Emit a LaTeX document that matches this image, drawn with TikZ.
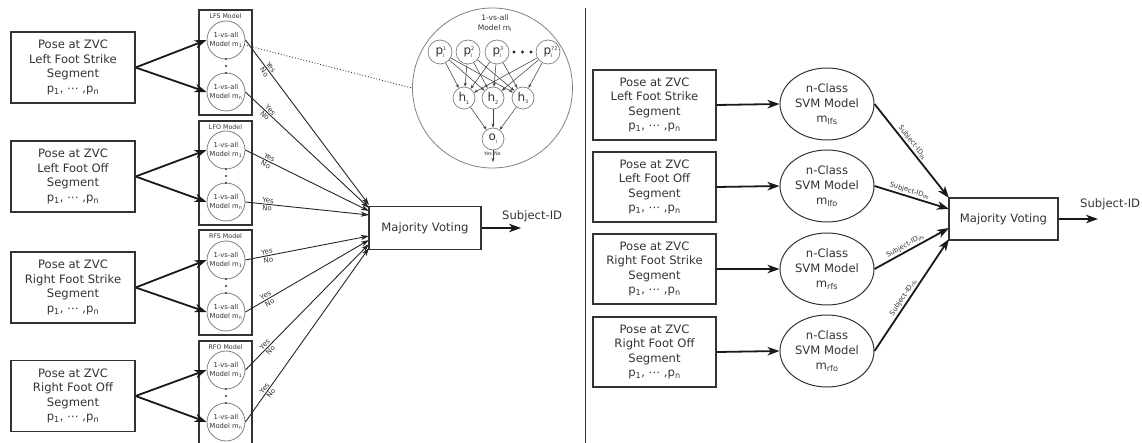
\documentclass[tikz,border=0pt]{standalone}
\usepackage{fontspec}
\setmainfont{DejaVu Sans}
\usetikzlibrary{arrows.meta,shapes.geometric,calc}
\definecolor{ink}{HTML}{333333}
\definecolor{circ}{HTML}{808080}
\begin{document}
\begin{tikzpicture}[x=1pt,y=-1pt,
  font=\fontsize{11.6}{14.5}\selectfont, text=ink,
  inbox/.style={draw=ink, line width=1.2pt, minimum width=124pt, minimum height=71pt, align=center, inner sep=0pt},
  grpbox/.style={draw=ink, line width=1.1pt, minimum width=53pt, inner sep=0pt},
  grplbl/.style={font=\fontsize{6.3}{7}\selectfont, inner sep=0pt},
  mcirc/.style={circle, draw=circ, line width=0.8pt, minimum size=38pt, inner sep=0pt, align=center, font=\fontsize{6.8}{9}\selectfont},
  thickarr/.style={draw=black!90, line width=1.8pt, -{Stealth[length=12pt,width=8.5pt,inset=3.5pt]}},
  vote/.style={draw=black!85, line width=0.9pt, -{Stealth[length=8pt,width=5pt,inset=2pt]}},
  yn/.style={font=\fontsize{7}{8}\selectfont, inner sep=1pt, sloped, pos=0.18},
  mvbox/.style={draw=ink, line width=1.1pt, inner sep=0pt},
  pn/.style={circle, draw=circ, line width=0.7pt, minimum size=24pt, inner sep=0pt, font=\fontsize{12}{12}\selectfont},
  hn/.style={circle, draw=circ, line width=0.7pt, minimum size=22pt, inner sep=0pt, font=\fontsize{12}{12}\selectfont},
  inarr/.style={draw=black!75, line width=0.55pt, -{Stealth[length=4pt,width=3pt]}},
  ell/.style={ellipse, draw=ink, line width=1pt, minimum width=94pt, minimum height=72pt, inner sep=0pt, align=center, font=\fontsize{11.6}{15}\selectfont},
  sidlbl/.style={font=\fontsize{6.8}{8}\selectfont, inner sep=1.5pt, sloped, above, pos=0.45}
]
\useasboundingbox (0,0) rectangle (1142,443);
\clip (0,0) rectangle (1142,443);

% ---------------- left part ----------------
\node[inbox] (lin1) at (73,67.5) {Pose at ZVC\\Left Foot Strike\\Segment\\p\textsubscript{1}, ⋯ ,p\textsubscript{n}};
\node[inbox] (lin2) at (73,176.5) {Pose at ZVC\\Left Foot Off\\Segment\\p\textsubscript{1}, ⋯ ,p\textsubscript{n}};
\node[inbox] (lin3) at (73,287.5) {Pose at ZVC\\Right Foot Strike\\Segment\\p\textsubscript{1}, ⋯ ,p\textsubscript{n}};
\node[inbox] (lin4) at (73,396) {Pose at ZVC\\Right Foot Off\\Segment\\p\textsubscript{1}, ⋯ ,p\textsubscript{n}};

\node[grpbox, minimum height=105pt] (gLFS) at (225.5,62.5) {};
\node[grpbox, minimum height=104pt] (gLFO) at (225.5,173) {};
\node[grpbox, minimum height=105pt] (gRFS) at (225.5,282.5) {};
\node[grpbox, minimum height=112pt] (gRFO) at (225.5,397) {};
\node[grplbl] (tLFS) at (225.5,16) {LFS Model};
\node[grplbl] (tLFO) at (225.5,127) {LFO Model};
\node[grplbl] (tRFS) at (225.5,236) {RFS Model};
\node[grplbl] (tRFO) at (225.5,347) {RFO Model};

\foreach \n/\ya/\yb in {lfs/40/92, lfo/150/202, rfs/260/312, rfo/370/422}{
  \node[mcirc] (\n1) at (226,\ya) {1-vs-all\\Model m\textsubscript{1}};
  \node[mcirc] (\n2) at (226,\yb) {1-vs-all\\Model m\textsubscript{n}};
  \foreach \d in {-7,0,7}{\fill[ink] (226,{(\ya+\yb)/2+\d}) circle (1.1pt);}
}

\draw[thickarr] (lin1.east) -- (lfs1.west);
\draw[thickarr] (lin1.east) -- (lfs2.west);
\draw[thickarr] (lin2.east) -- (lfo1.west);
\draw[thickarr] (lin2.east) -- (lfo2.west);
\draw[thickarr] (lin3.east) -- (rfs1.west);
\draw[thickarr] (lin3.east) -- (rfs2.west);
\draw[thickarr] (lin4.east) -- (rfo1.west);
\draw[thickarr] (lin4.east) -- (rfo2.west);

\node[mvbox, minimum width=112pt, minimum height=43pt] (mvL) at (425,228) {Majority Voting};
\coordinate (tL1) at (369,205);
\coordinate (tL2) at (369,208);
\coordinate (tL3) at (369,211);
\coordinate (tL4) at (369,215);
\coordinate (tL5) at (369,236);
\coordinate (tL6) at (369,240);
\coordinate (tL7) at (369,244);
\coordinate (tL8) at (369,248);
\foreach \c/\t in {lfs1/tL1, lfs2/tL2, lfo1/tL3, lfo2/tL4, rfs1/tL5, rfs2/tL6, rfo1/tL7, rfo2/tL8}{
  \draw[vote] (\c.east) -- (\t) node[yn, above] {Yes} node[yn, below] {No};
}
\coordinate (oL) at (521,228);
\draw[thickarr] (mvL.east) -- (oL);
\node[anchor=west, inner sep=0pt] (sidL) at (502,216) {Subject-ID};

% inset network
\node[circle, draw=circ, line width=0.8pt, minimum size=160pt, inner sep=0pt] (inset) at (492.5,88) {};
\draw[dotted, line width=0.9pt, black!80] ($(lfs1.center)+(15:19)$) -- (inset.west);
\node[font=\fontsize{7.5}{10}\selectfont, align=center, inner sep=0pt] (insT) at (495,23) {1-vs-all\\Model m\textsubscript{i}};
\node[pn] (p1) at (440,52) {p\rlap{\raisebox{0.6ex}{\fontsize{5}{5}\selectfont 1}}\raisebox{-0.5ex}{\fontsize{5}{5}\selectfont i}};
\node[pn] (p2) at (468,52) {p\rlap{\raisebox{0.6ex}{\fontsize{5}{5}\selectfont 2}}\raisebox{-0.5ex}{\fontsize{5}{5}\selectfont i}};
\node[pn] (p3) at (497,52) {p\rlap{\raisebox{0.6ex}{\fontsize{5}{5}\selectfont 3}}\raisebox{-0.5ex}{\fontsize{5}{5}\selectfont i}};
\node[pn] (p4) at (548,52) {p\rlap{\raisebox{0.6ex}{\fontsize{5}{5}\selectfont 72}}\raisebox{-0.5ex}{\fontsize{5}{5}\selectfont i}};
\foreach \x in {514,522.5,531}{\fill[black!85] (\x,52) circle (1.7pt);}
\node[hn] (h1) at (464,98) {h\raisebox{-0.45ex}{\fontsize{5}{5}\selectfont 1}};
\node[hn] (h2) at (493,98) {h\raisebox{-0.45ex}{\fontsize{5}{5}\selectfont 2}};
\node[hn] (h3) at (523,98) {h\raisebox{-0.45ex}{\fontsize{5}{5}\selectfont 3}};
\node[hn] (o) at (493,139) {o\raisebox{-0.45ex}{\fontsize{5}{5}\selectfont i}};
\foreach \p in {p1,p2,p3,p4}{\foreach \h in {h1,h2,h3}{\draw[inarr] (\p) -- (\h);}}
\foreach \h in {h1,h2,h3}{\draw[inarr] (\h) -- (o);}
\coordinate (oo) at (493,162);
\draw[inarr] (o.south) -- (oo);
\node[font=\fontsize{5}{6}\selectfont, anchor=east, inner sep=0.8pt] (yI) at (493,154) {Yes};
\node[font=\fontsize{5}{6}\selectfont, anchor=west, inner sep=0.8pt] (nI) at (493,154) {No};

% divider
\coordinate (dv1) at (585,8);
\coordinate (dv2) at (585,443);
\draw[line width=0.9pt, ink] (dv1) -- (dv2);

% ---------------- right part ----------------
\node[inbox, minimum width=123pt, minimum height=70pt] (rin1) at (654.5,105) {Pose at ZVC\\Left Foot Strike\\Segment\\p\textsubscript{1}, ⋯ ,p\textsubscript{n}};
\node[inbox, minimum width=123pt, minimum height=70pt] (rin2) at (654.5,187) {Pose at ZVC\\Left Foot Off\\Segment\\p\textsubscript{1}, ⋯ ,p\textsubscript{n}};
\node[inbox, minimum width=123pt, minimum height=70pt] (rin3) at (654.5,269) {Pose at ZVC\\Right Foot Strike\\Segment\\p\textsubscript{1}, ⋯ ,p\textsubscript{n}};
\node[inbox, minimum width=123pt, minimum height=70pt] (rin4) at (654.5,352) {Pose at ZVC\\Right Foot Off\\Segment\\p\textsubscript{1}, ⋯ ,p\textsubscript{n}};

\node[ell] (e1) at (827,104) {n-Class\\SVM Model\\m\textsubscript{lfs}};
\node[ell] (e2) at (827,186) {n-Class\\SVM Model\\m\textsubscript{lfo}};
\node[ell] (e3) at (827,269) {n-Class\\SVM Model\\m\textsubscript{rfs}};
\node[ell] (e4) at (827,351) {n-Class\\SVM Model\\m\textsubscript{rfo}};

\draw[thickarr] (rin1.east) -- (e1.west);
\draw[thickarr] (rin2.east) -- (e2.west);
\draw[thickarr] (rin3.east) -- (e3.west);
\draw[thickarr] (rin4.east) -- (e4.west);

\node[mvbox, minimum width=109pt, minimum height=42pt] (mvR) at (1003.5,219) {Majority Voting};
\coordinate (tR1) at (949,198);
\coordinate (tR2) at (949,209);
\coordinate (tR3) at (949,228);
\coordinate (tR4) at (949,239);
\draw[thickarr] (e1.east) -- (tR1) node[sidlbl] {Subject-ID\textsubscript{lfs}};
\draw[thickarr] (e2.east) -- (tR2) node[sidlbl] {Subject-ID\textsubscript{lfo}};
\draw[thickarr] (e3.east) -- (tR3) node[sidlbl] {Subject-ID\textsubscript{rfs}};
\draw[thickarr] (e4.east) -- (tR4) node[sidlbl] {Subject-ID\textsubscript{rfo}};
\coordinate (oR) at (1098,219);
\draw[thickarr] (mvR.east) -- (oR);
\node[anchor=west, inner sep=0pt] (sidR) at (1080,204) {Subject-ID};
\end{tikzpicture}
\end{document}
